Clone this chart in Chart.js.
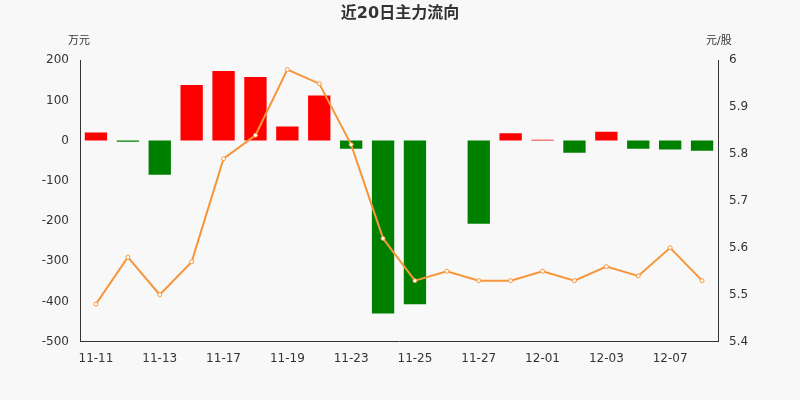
<!DOCTYPE html>
<html><head><meta charset="utf-8">
<script src="https://cdn.jsdelivr.net/npm/chart.js@4/dist/chart.umd.min.js"></script>
<style>html,body{margin:0;background:#f8f8f8}#w{position:relative;width:800px;height:400px}
.u{position:absolute;top:31px;font:11px "DejaVu Sans","Noto Sans CJK SC",sans-serif;color:#333}</style>
</head><body><div id="w"><canvas id="c" width="800" height="400"></canvas>
<div class="u" style="left:68px">万元</div><div class="u" style="left:706px">元/股</div></div>
<script>
const categories=["11-11","11-12","11-13","11-16","11-17","11-18","11-19","11-20","11-23","11-24","11-25","11-26","11-27","11-30","12-01","12-02","12-03","12-04","12-07","12-08"];
const flows=[20,-3,-85,138,173,158,35,112,-20,-430,-407,0,-207,18,2,-30,22,-20,-22,-25];
const prices=[5.48,5.58,5.50,5.57,5.79,5.84,5.98,5.95,5.82,5.62,5.53,5.55,5.53,5.53,5.55,5.53,5.56,5.54,5.60,5.53];
const f='"DejaVu Sans","Noto Sans CJK SC", sans-serif';
new Chart(document.getElementById('c'),{
 data:{labels:categories,datasets:[
  {type:'line',data:prices,yAxisID:'y2',borderColor:'#f7953a',borderWidth:2,pointRadius:2,pointBackgroundColor:'#fff',pointBorderColor:'#f7953a',pointBorderWidth:1,tension:0},
  {type:'bar',data:flows,yAxisID:'y',backgroundColor:flows.map(v=>v>=0?'#ff0000':'#008000'),categoryPercentage:0.7,barPercentage:1}
 ]},
 options:{responsive:false,animation:false,
  layout:{padding:{top:0,left:0,right:0,bottom:32}},
  plugins:{legend:{display:false},tooltip:{enabled:false},
   title:{display:true,text:'近20日主力流向',color:'#333',font:{family:f,size:16,weight:'bold'},padding:{top:4,bottom:37}}},
  scales:{
   x:{grid:{display:false},border:{color:'#333'},ticks:{color:'#333',font:{family:f,size:12},autoSkip:false,maxRotation:0,padding:2,callback:(v,i)=>i%2==0?categories[i]:''}},
   y:{position:'left',min:-500,max:200,afterFit:s=>{s.width=80},grid:{display:false},border:{color:'#333'},ticks:{stepSize:100,color:'#333',font:{family:f,size:12}}},
   y2:{position:'right',min:5.4,max:6,afterFit:s=>{s.width=82},grid:{display:false},border:{color:'#333'},ticks:{stepSize:0.1,color:'#333',font:{family:f,size:12},callback:v=>Math.abs(v-6)<1e-9?'6':v.toFixed(1)}}
  }}
});
</script></body></html>
